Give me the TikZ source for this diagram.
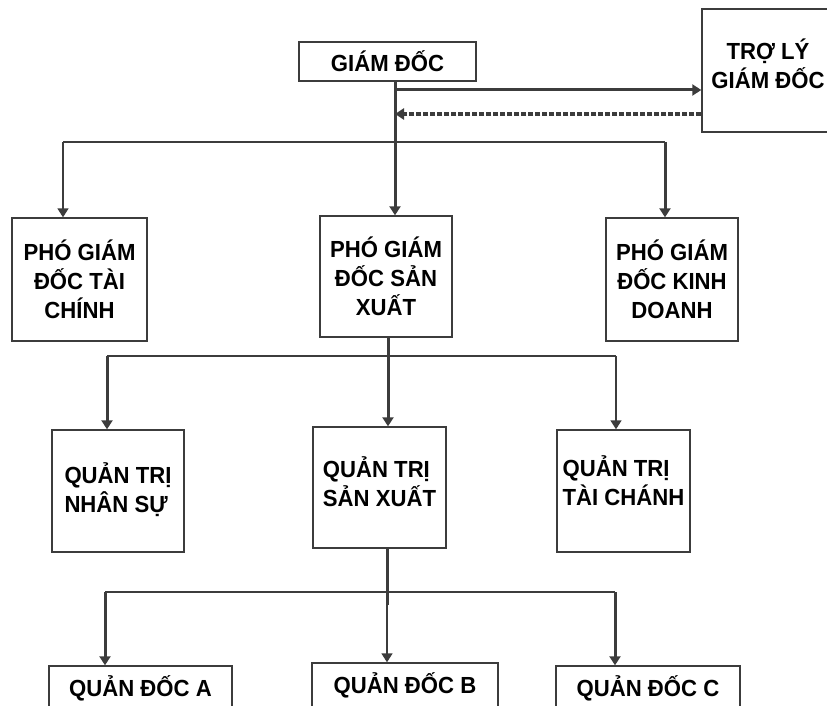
\documentclass[tikz,border=0pt]{standalone}
\usepackage{fontspec}
\setmainfont{Liberation Sans}[FakeStretch=0.95]
\usetikzlibrary{arrows.meta}
\definecolor{linec}{HTML}{3C3C3C}
\tikzset{
  box/.style={draw=linec, line width=1.4pt, inner sep=0pt, align=center,
    font=\bfseries\fontsize{23.3}{29}\selectfont, text=black},
  lbox/.style={box, align=left},
  thinl/.style={draw=linec, line width=1.5pt},
  thickl/.style={draw=linec, line width=3pt},
  tip/.style={-{Triangle[width=11pt,length=9pt]}},
}
\begin{document}
\begin{tikzpicture}[x=1pt,y=-1pt]
\useasboundingbox (0,0) rectangle (827,706);
\clip (0,0) rectangle (827,706);
\fill[white] (0,0) rectangle (827,706);

% boxes
\node[box, minimum width=177pt, minimum height=39pt] (gd) at (387.5,61.5) {GIÁM ĐỐC};
\node[box, minimum width=132pt, minimum height=123pt] (tl) at (768,70.5) {TRỢ LÝ\\GIÁM ĐỐC\\[-15pt]\mbox{}};

\node[box, minimum width=135pt, minimum height=123pt] (ptc) at (79.5,279.5) {PHÓ GIÁM\\ĐỐC TÀI\\CHÍNH};
\node[box, minimum width=132pt, minimum height=121pt] (psx) at (386,276.5) {PHÓ GIÁM\\ĐỐC SẢN\\XUẤT};
\node[box, minimum width=132pt, minimum height=123pt] (pkd) at (672,279.5) {PHÓ GIÁM\\ĐỐC KINH\\DOANH};

\node[lbox, minimum width=132pt, minimum height=122pt] (qns) at (118,491) {QUẢN TRỊ\\NHÂN SỰ\\[-23pt]\mbox{}};
\node[lbox, minimum width=133pt, minimum height=121pt] (qsx) at (379.5,487.5) {QUẢN TRỊ\\SẢN XUẤT\\[-18pt]\mbox{}};
\node[lbox, minimum width=133pt, minimum height=122pt] (qtc) at (623.5,491) {QUẢN TRỊ\\TÀI CHÁNH\\[-9pt]\mbox{}};

\node[box, minimum width=183pt, minimum height=44pt] (da) at (140.5,688) {QUẢN ĐỐC A};
\node[box, minimum width=186pt, minimum height=44pt] (db) at (405,685) {QUẢN ĐỐC B};
\node[box, minimum width=184pt, minimum height=44pt] (dc) at (648,688) {QUẢN ĐỐC C};

% junction coordinates
\coordinate (v1) at (395,142);
\coordinate (h1l) at (63,142);
\coordinate (h1r) at (665,142);
\coordinate (sa) at (395,90);
\coordinate (sb) at (395,114);

\coordinate (v2) at (388,356);
\coordinate (h2l) at (107,356);
\coordinate (h2r) at (616,356);

\coordinate (v3) at (387,592);
\coordinate (v3b) at (387,605);
\coordinate (h3l) at (105,592);
\coordinate (h3r) at (615,592);

% level 1
\draw[thickl, tip] (gd.south -| v1) -- (psx.north -| v1);
\draw[draw=linec, line width=3pt, tip] (sa) -- (tl.west |- sa);
\draw[draw=linec, line width=4pt, dash pattern=on 5pt off 2pt,
      -{Triangle[width=11pt,length=9pt]}] (tl.west |- sb) -- (sb);
\draw[thinl] (h1l) -- (h1r);
\draw[thinl, tip] (h1l) -- (ptc.north -| h1l);
\draw[thickl, tip] (h1r) -- (pkd.north -| h1r);

% level 2
\draw[thickl, tip] (psx.south -| v2) -- (qsx.north -| v2);
\draw[thinl] (h2l) -- (h2r);
\draw[thickl, tip] (h2l) -- (qns.north -| h2l);
\draw[thinl, tip] (h2r) -- (qtc.north -| h2r);

% level 3
\draw[thickl] (qsx.south -| v3) -- (v3b);
\draw[thinl, tip] (v3b) -- (db.north -| v3b);
\draw[thinl] (h3l) -- (h3r);
\draw[thickl, tip] (h3l) -- (da.north -| h3l);
\draw[thickl, tip] (h3r) -- (dc.north -| h3r);
\end{tikzpicture}
\end{document}
